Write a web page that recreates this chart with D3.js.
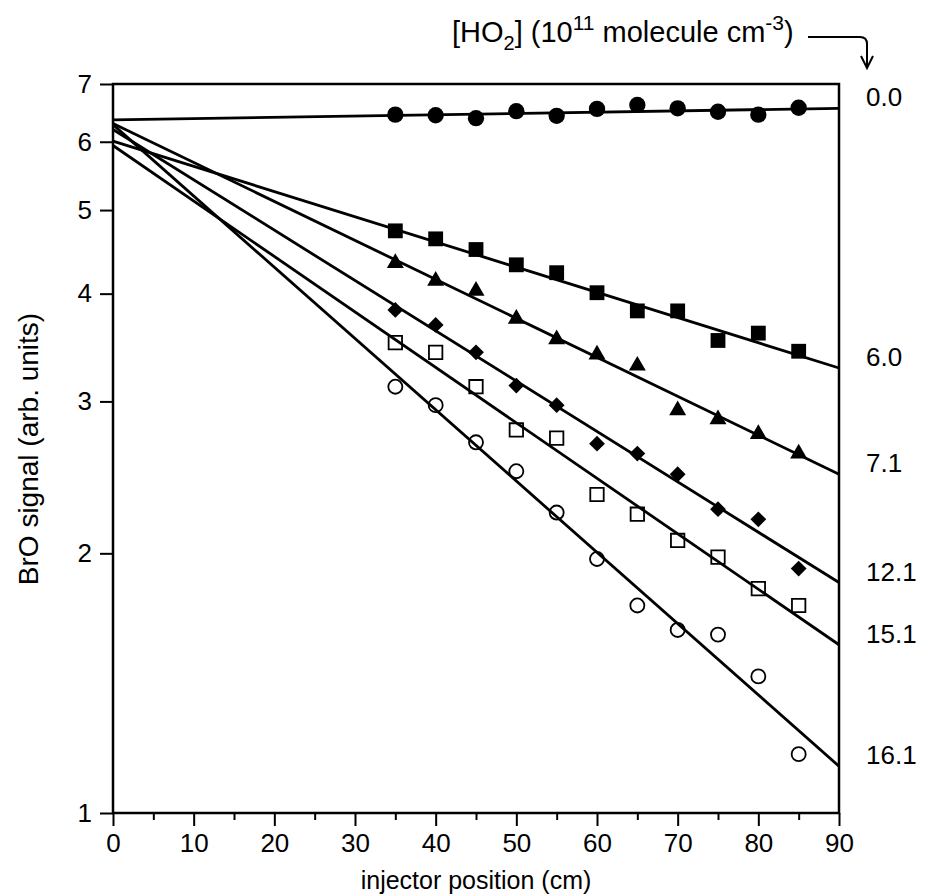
<!DOCTYPE html>
<html>
<head>
<meta charset="utf-8">
<script src="https://cdn.jsdelivr.net/npm/d3@7"></script>
<style>
  body { margin: 0; background: #fff; }
  text { font-family: "Liberation Sans", Arial, sans-serif; fill: #000; }
</style>
</head>
<body>
<div id="chart"></div>
<script>
const MARGIN = { TOP: 84, BOTTOM: 83, LEFT: 113, RIGHT: 93 }
const WIDTH = 932 - MARGIN.LEFT - MARGIN.RIGHT
const HEIGHT = 896 - MARGIN.TOP - MARGIN.BOTTOM

// injector positions (cm) where BrO was measured
const positions = [35, 40, 45, 50, 55, 60, 65, 70, 75, 80, 85]

// [HO2] for each run, 10^11 molecule cm^-3
const ho2Labels = ["0.0", "6.0", "7.1", "12.1", "15.1", "16.1"]

// BrO signal (arb. units), one array per run
const bro00 = [6.45, 6.44, 6.39, 6.51, 6.43, 6.55, 6.62, 6.56, 6.50, 6.45, 6.57]
const bro60 = [4.73, 4.63, 4.50, 4.32, 4.23, 4.01, 3.82, 3.82, 3.53, 3.60, 3.43]
const bro71 = [4.34, 4.14, 4.03, 3.74, 3.54, 3.40, 3.30, 2.93, 2.86, 2.75, 2.61]
const bro121 = [3.83, 3.68, 3.42, 3.13, 2.97, 2.68, 2.61, 2.47, 2.25, 2.19, 1.92]
const bro151 = [3.51, 3.42, 3.12, 2.78, 2.72, 2.34, 2.22, 2.07, 1.98, 1.82, 1.74]
const bro161 = [3.12, 2.97, 2.69, 2.49, 2.23, 1.97, 1.74, 1.63, 1.61, 1.44, 1.17]

// exponential fits, value at 0 cm and at 90 cm
const fitAt0 = [6.36, 6.01, 6.30, 6.20, 5.94, 6.28]
const fitAt90 = [6.56, 3.28, 2.47, 1.85, 1.567, 1.133]

const xTickValues = [0, 10, 20, 30, 40, 50, 60, 70, 80, 90]
const xMinorValues = [5, 15, 25, 35, 45, 55, 65, 75, 85]
const yTickValues = [1, 2, 3, 4, 5, 6, 7]

const runs = [bro00, bro60, bro71, bro121, bro151, bro161]

const MARKERS = [
  { type: d3.symbolCircle, size: 210, fill: true, rotate: 0 },
  { type: d3.symbolSquare, size: 220, fill: true, rotate: 0 },
  { type: d3.symbolTriangle, size: 125, fill: true, rotate: 0 },
  { type: d3.symbolSquare, size: 125, fill: true, rotate: 45 },
  { type: d3.symbolSquare, size: 180, fill: false, rotate: 0 },
  { type: d3.symbolCircle, size: 155, fill: false, rotate: 0 },
]

const svgRoot = d3.select("#chart")
                  .append("svg")
                  .attr("width", WIDTH + MARGIN.LEFT + MARGIN.RIGHT)
                  .attr("height", HEIGHT + MARGIN.TOP + MARGIN.BOTTOM)
const svg = svgRoot.append("g")
                   .attr("transform", `translate(${MARGIN.LEFT}, ${MARGIN.TOP})`)

const x = d3.scaleLinear()
            .domain([0, 90])
            .range([0, WIDTH])
const y = d3.scaleLog()
            .domain([1, 7])
            .range([HEIGHT, 0])

// axes
const xAxisGroup = svg.append("g")
                      .attr("transform", `translate(0, ${HEIGHT})`)
                      .call(d3.axisBottom(x)
                              .tickValues(xTickValues)
                              .tickSize(13)
                              .tickPadding(8)
                              .tickFormat(d3.format("d")))
const xMinorGroup = svg.append("g")
                       .attr("transform", `translate(0, ${HEIGHT})`)
                       .call(d3.axisBottom(x)
                               .tickValues(xMinorValues)
                               .tickSize(7)
                               .tickFormat(""))
const yAxisGroup = svg.append("g")
                      .call(d3.axisLeft(y)
                              .tickValues(yTickValues)
                              .tickSize(13)
                              .tickPadding(8)
                              .tickFormat(d3.format("d")))

;[xAxisGroup, xMinorGroup, yAxisGroup].forEach(g => {
  g.select(".domain").remove()
  g.selectAll(".tick line").attr("stroke", "#000").attr("stroke-width", 2)
  g.selectAll(".tick text")
   .attr("font-size", 26)
   .attr("font-family", "'Liberation Sans', Arial, sans-serif")
})

svg.append("rect")
   .attr("x", 0)
   .attr("y", 0)
   .attr("width", WIDTH)
   .attr("height", HEIGHT)
   .attr("fill", "none")
   .attr("stroke", "#000")
   .attr("stroke-width", 2.5)

// axis titles
svg.append("text")
   .attr("x", WIDTH / 2)
   .attr("y", HEIGHT + 76)
   .attr("text-anchor", "middle")
   .attr("font-size", 25)
   .text("injector position (cm)")

svg.append("text")
   .attr("transform", "rotate(-90)")
   .attr("x", -(449 - MARGIN.TOP))
   .attr("y", 38 - MARGIN.LEFT)
   .attr("text-anchor", "middle")
   .attr("font-size", 28)
   .text("BrO signal (arb. units)")

// header with arrow pointing down at the concentration column
const header = svgRoot.append("text")
                      .attr("x", 452)
                      .attr("y", 42)
                      .attr("font-size", 29)
header.append("tspan").text("[HO")
header.append("tspan").attr("font-size", 20).attr("dy", 8).text("2")
header.append("tspan").attr("dy", -8).text("] (10")
header.append("tspan").attr("font-size", 21).attr("dy", -12).text("11")
header.append("tspan").attr("dy", 12).text(" molecule cm")
header.append("tspan").attr("font-size", 21).attr("dy", -12).text("-3")
header.append("tspan").attr("dy", 12).text(")")

svgRoot.append("path")
       .attr("d", "M808,37 L860,37 Q867,37 867,44 L867,68 M861,56 L867,68 L873,56")
       .attr("fill", "none")
       .attr("stroke", "#000")
       .attr("stroke-width", 2)

// fit lines
const line = d3.line()
               .x(d => x(d[0]))
               .y(d => y(d[1]))

runs.forEach((run, i) => {
  svg.append("path")
     .datum([[0, fitAt0[i]], [90, fitAt90[i]]])
     .attr("fill", "none")
     .attr("stroke", "#000")
     .attr("stroke-width", 2.8)
     .attr("d", line)
})

// data points
runs.forEach((run, i) => {
  const m = MARKERS[i]
  const symbol = d3.symbol().type(m.type).size(m.size)
  svg.append("g")
     .selectAll("path")
     .data(run.map((v, j) => [positions[j], v]))
     .join("path")
     .attr("d", symbol)
     .attr("transform", d => `translate(${x(d[0])}, ${y(d[1])}) rotate(${m.rotate})`)
     .attr("fill", m.fill ? "#000" : "none")
     .attr("stroke", "#000")
     .attr("stroke-width", m.fill ? 0 : 1.8)
})

// concentration labels at the right end of each fit
runs.forEach((run, i) => {
  svg.append("text")
     .attr("x", WIDTH + 27)
     .attr("y", y(fitAt90[i]) - 2)
     .attr("font-size", 26)
     .text(ho2Labels[i])
})
</script>
</body>
</html>
